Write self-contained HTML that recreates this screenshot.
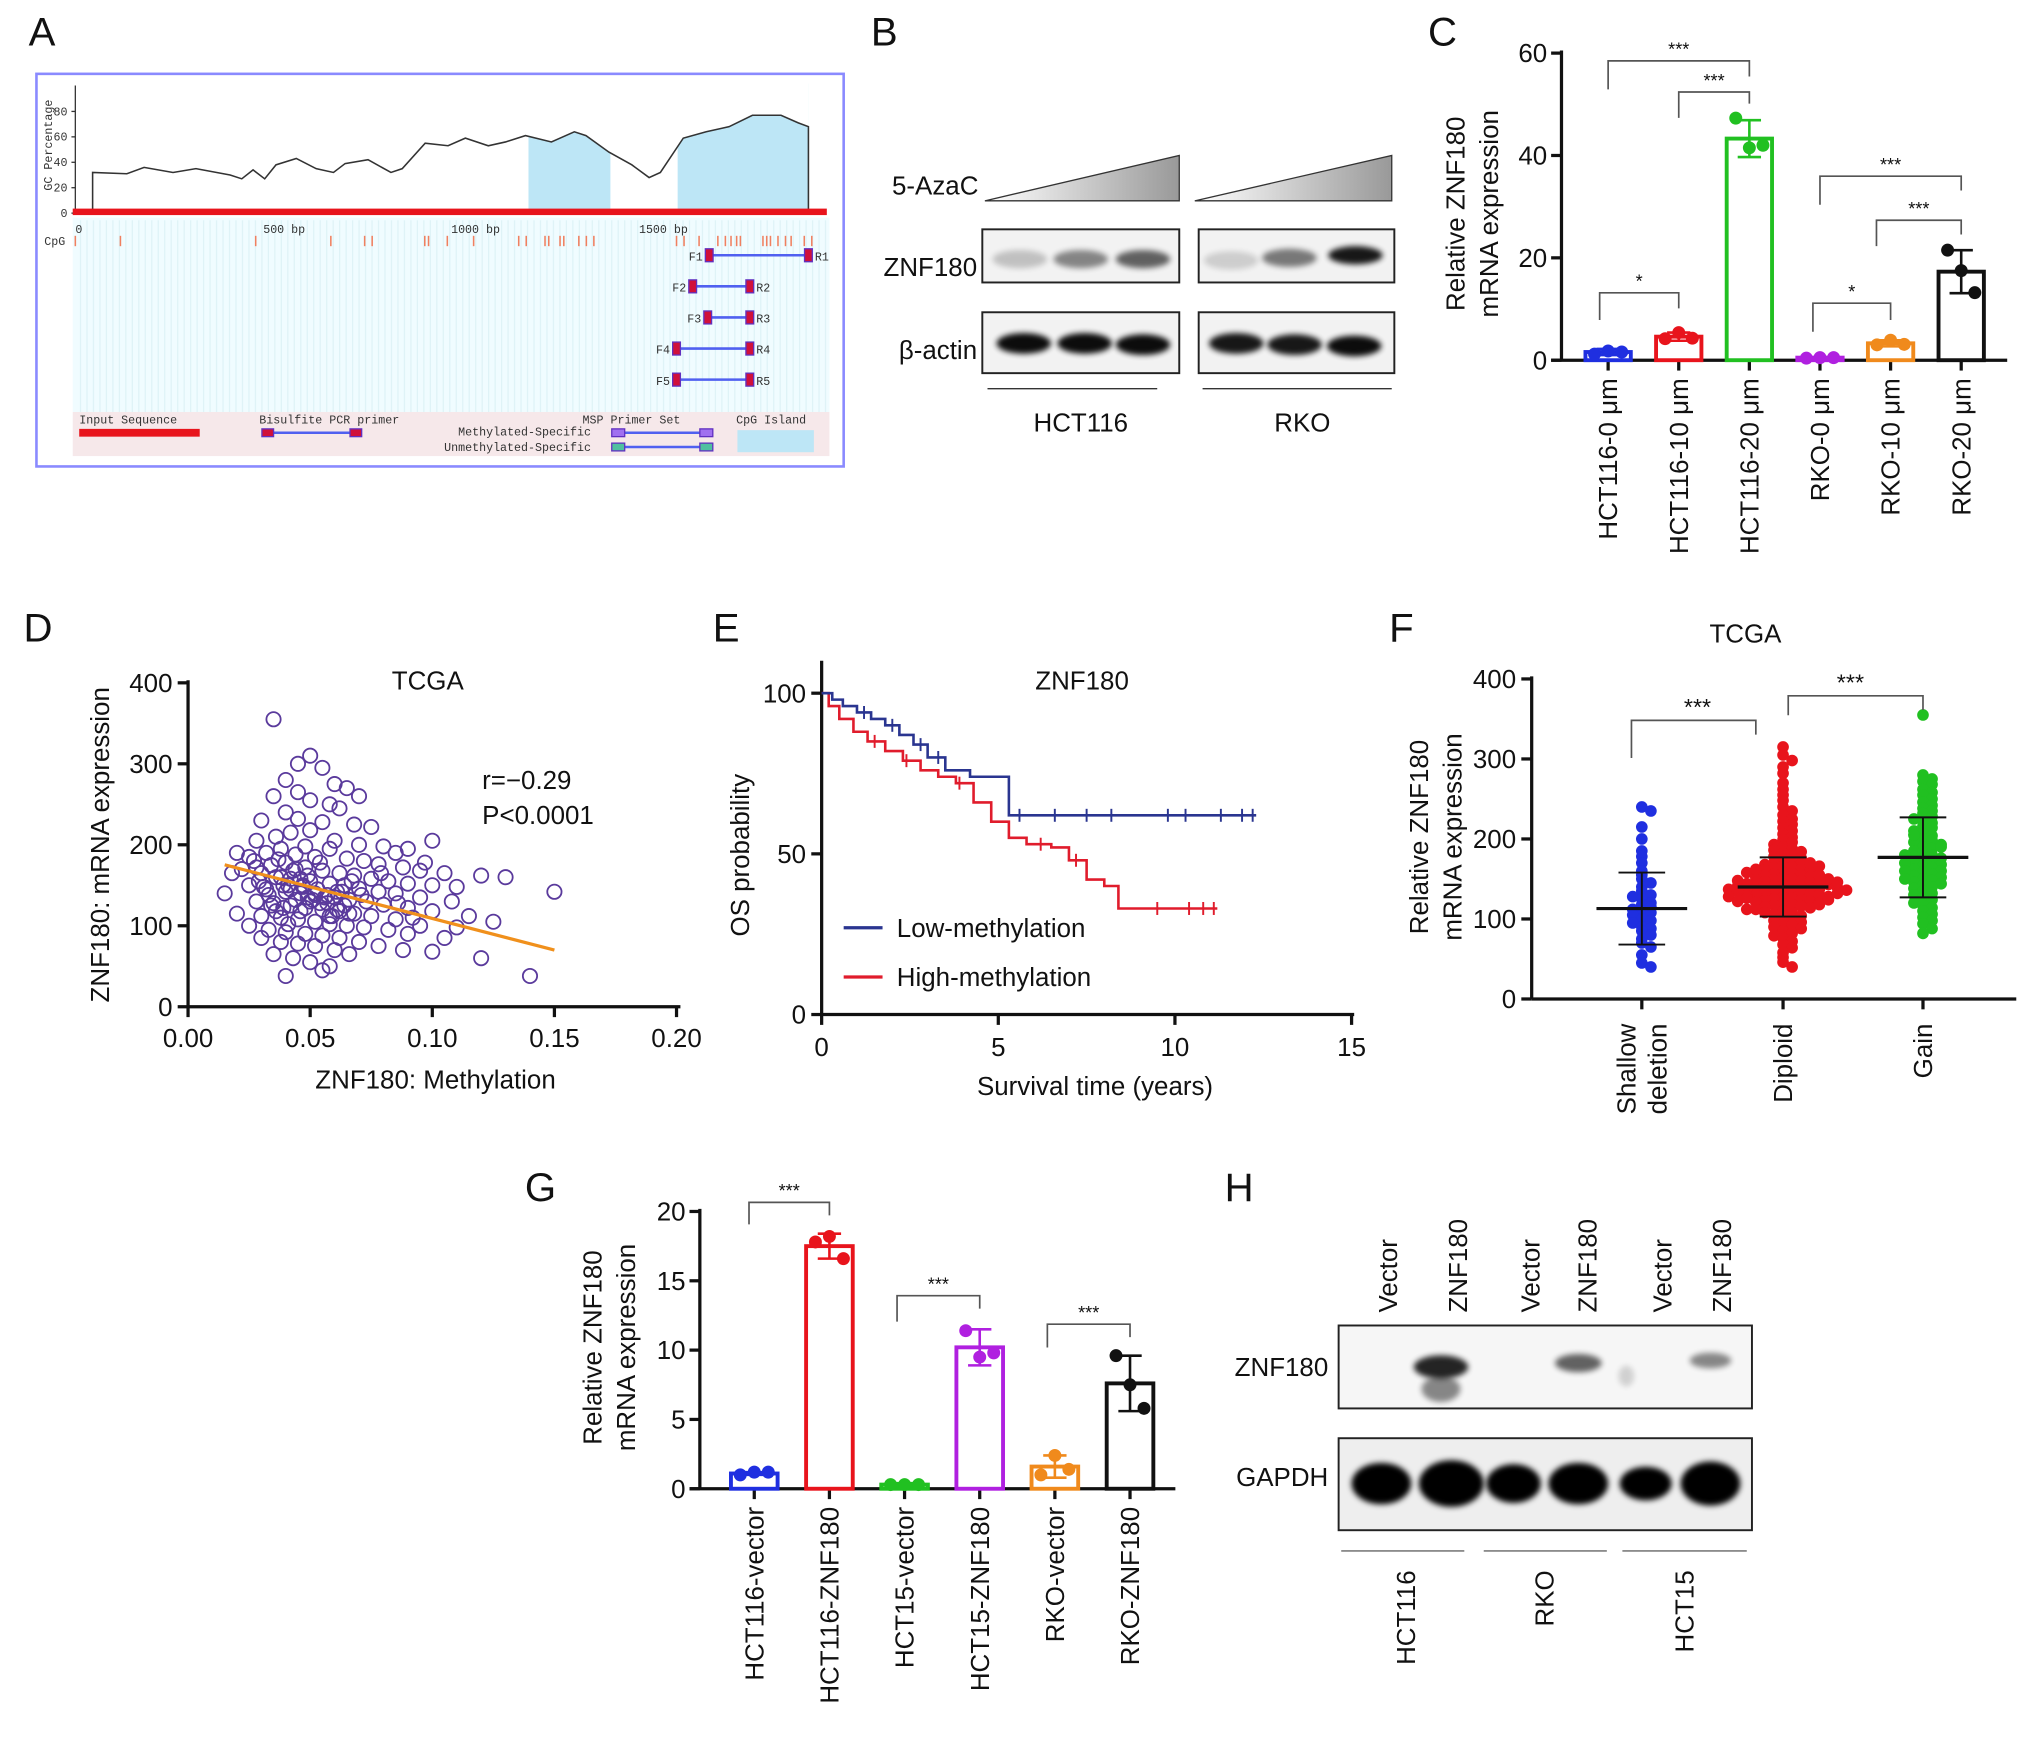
<!DOCTYPE html>
<html><head><meta charset="utf-8"><style>
html,body{margin:0;padding:0;background:#fff}
svg{display:block}
text{font-family:"Liberation Sans",sans-serif;fill:#111}
.mono{font-family:"Liberation Mono",monospace;font-size:9px;fill:#333}
</style></head><body>
<svg id="fig" width="2032" height="1744" viewBox="0 0 1568 1346" xmlns="http://www.w3.org/2000/svg">
<defs>
<filter id="blur2" x="-50%" y="-50%" width="200%" height="200%"><feGaussianBlur stdDeviation="3"/></filter>
<filter id="blur1" x="-50%" y="-50%" width="200%" height="200%"><feGaussianBlur stdDeviation="2.2"/></filter>
<linearGradient id="tri" x1="0" x2="1" y1="0" y2="0"><stop offset="0" stop-color="#fff"/><stop offset="1" stop-color="#999"/></linearGradient>
</defs>
<g id="panelA"></g>
<g id="panelB"></g>
<g id="panelC"></g>
<g id="panelD"></g>
<g id="panelE"></g>
<g id="panelF"></g>
<g id="panelG"></g>
<g id="panelH"></g>
</svg>
<script>
// ---------- DATA ----------
// Panel A GC content
const gcBp=[46,46,137,183,260,321,412,443,473,504,534,588,641,687,718,779,840,870,931,992,1038,1099,1145,1198,1267,1328,1359,1420,1481,1527,1557,1618,1679,1740,1802,1878,1924,1951,1951];
const gcPct=[0,32,31,36,32,35,30,27,34,27,38,43,35,32,39,42,32,35,55,53,59,53,56,61,56,64,61,48,38,28,32,59,64,68,77,77,71,68,0];
const islandStart=[1206,1603];
const islandEnd=[1424,1951];
const cpgSites=[0,120,480,680,770,790,930,940,990,1060,1180,1200,1250,1260,1290,1300,1340,1360,1380,1600,1620,1660,1710,1730,1745,1760,1770,1830,1840,1850,1870,1890,1905,1940,1960];
const primerNames=["1","2","3","4","5"];
const primerF=[1687,1643,1683,1600,1600];
const primerR=[1951,1795,1795,1795,1795];
// Panel C
const cCats=["HCT116-0 μm","HCT116-10 μm","HCT116-20 μm","RKO-0 μm","RKO-10 μm","RKO-20 μm"];
const cVals=[1.6,4.6,43.3,0.5,3.3,17.3];
const cSd=[0.6,0.8,3.6,0.1,0.6,4.2];
const cPts=[[1.2,1.8,1.6],[4.2,5.4,4.3],[47.3,41.5,42.0],[0.4,0.5,0.5],[3.0,3.9,3.1],[21.5,17.5,13.2]];
const cColors=["#1f2fe0","#e8141c","#21c021","#b020e0","#f08a1c","#111"];
const cTicks=[0,20,40,60];
// Panel D scatter
const dMeth=[0.035,0.045,0.05,0.055,0.04,0.06,0.065,0.07,0.045,0.035,0.05,0.058,0.062,0.04,0.03,0.045,0.055,0.068,0.075,0.05,0.042,0.036,0.028,0.06,0.07,0.08,0.09,0.1,0.085,0.058,0.048,0.038,0.032,0.025,0.02,0.044,0.052,0.065,0.072,0.078,0.088,0.095,0.105,0.12,0.04,0.034,0.028,0.022,0.018,0.048,0.055,0.062,0.068,0.075,0.082,0.09,0.1,0.11,0.03,0.036,0.042,0.05,0.058,0.064,0.07,0.078,0.085,0.095,0.015,0.025,0.032,0.04,0.046,0.052,0.06,0.066,0.073,0.08,0.09,0.1,0.115,0.125,0.15,0.028,0.035,0.042,0.048,0.055,0.062,0.068,0.075,0.085,0.095,0.11,0.02,0.03,0.038,0.045,0.052,0.058,0.065,0.072,0.082,0.09,0.105,0.12,0.14,0.025,0.033,0.04,0.048,0.055,0.062,0.07,0.078,0.088,0.1,0.03,0.038,0.045,0.052,0.06,0.066,0.035,0.043,0.05,0.058,0.04,0.055,0.047,0.053,0.039,0.044,0.057,0.033,0.061,0.049,0.043,0.054,0.037,0.067,0.071,0.059,0.046,0.041,0.064,0.051,0.036,0.029,0.079,0.086,0.092,0.097,0.108,0.13,0.042,0.047,0.052,0.056,0.038,0.061,0.044,0.05,0.034,0.058,0.063,0.041,0.049,0.054,0.031,0.046,0.057,0.039,0.066,0.027];
const dExpr=[355,300,310,295,280,275,270,260,265,260,255,250,245,240,230,232,228,225,222,218,215,210,205,205,200,198,195,205,190,195,198,195,190,185,190,188,185,183,180,176,172,168,165,162,178,175,172,170,165,172,168,165,162,158,155,152,150,148,165,160,158,155,152,150,146,142,140,135,140,150,145,142,140,138,135,132,130,126,122,118,112,105,142,130,128,125,122,120,118,115,112,108,100,98,115,112,110,108,105,102,100,98,95,90,85,60,38,100,95,92,90,88,85,80,75,70,68,85,80,78,75,70,65,65,60,55,50,38,45,148,145,150,132,128,138,142,162,168,178,182,155,138,112,118,102,125,132,118,155,165,128,110,178,130,160,145,150,140,135,160,120,170,130,125,112,142,150,135,128,148,158,138,122,115,180];
const dFitSlope=-780, dFitIntercept=187;
const dFitX=[0.015,0.15];
const dXTicks=[0,0.05,0.10,0.15,0.20];
const dYTicks=[0,100,200,300,400];
// Panel E KM
const kmLowT=[0,0.3,0.6,1.0,1.4,1.8,2.2,2.6,3.0,3.5,4.2,5.3,12.3];
const kmLowS=[100,98,96,94,92,90,87,84,80,76,74,62,62];
const kmHighT=[0,0.2,0.5,0.9,1.3,1.8,2.3,2.8,3.3,3.8,4.3,4.8,5.3,5.8,6.5,7.0,7.5,8.0,8.4,11.2];
const kmHighS=[100,96,92,88,85,82,79,76,74,72,66,60,55,53,52,48,42,40,33,33];
const kmLowCens=[1.2,2.0,2.8,3.3,5.6,6.6,7.5,8.2,9.8,10.3,11.3,11.9,12.2];
const kmHighCens=[1.5,2.4,3.9,6.2,7.2,9.5,10.4,10.8,11.1];
const eXTicks=[0,5,10,15];
const eYTicks=[0,50,100];
// Panel F
const fCats=["Shallow deletion","Diploid","Gain"];
const fShallow=[240,235,215,200,185,178,170,160,155,150,145,140,135,130,128,125,120,118,115,112,110,108,105,100,98,95,90,88,85,80,75,70,65,55,45,40];
const fDiploid=[315,305,298,290,282,270,262,255,248,240,235,230,225,222,218,214,210,206,202,199,196,193,190,188,186,184,182,180,178,176,174,172,170,169,168,166,165,164,162,161,160,158,157,156,155,154,153,152,151,150,149,148,147,146,145,145,144,143,142,141,140,140,139,138,137,136,135,135,134,133,132,131,130,130,129,128,127,126,125,124,123,122,121,120,119,118,117,116,115,114,112,110,108,106,104,102,100,98,96,94,92,90,88,85,82,79,76,72,68,64,58,52,46,40,143,141,139,137,150,148,146,136,134,132,128,126,124,155,158,162,166,170,122,118,112,108];
const fGain=[355,280,275,272,268,262,258,255,250,246,242,238,235,232,228,225,222,220,216,214,210,207,204,200,198,196,193,190,188,185,183,180,178,176,174,172,170,168,166,164,162,160,158,156,154,152,150,148,146,144,142,140,138,135,132,130,127,124,120,117,114,110,106,102,98,94,88,82,190,180,170,160,150,205];
const fMeans=[113,140,177];
const fSds=[45,37,50];
const fColors=["#1f2fe0","#e8141c","#21c021"];
const fTicks=[0,100,200,300,400];
// Panel G
const gCats=["HCT116-vector","HCT116-ZNF180","HCT15-vector","HCT15-ZNF180","RKO-vector","RKO-ZNF180"];
const gVals=[1.1,17.5,0.3,10.2,1.6,7.6];
const gSd=[0.1,0.9,0.1,1.3,0.8,2.0];
const gPts=[[1.0,1.2,1.2],[17.8,18.2,16.6],[0.3,0.3,0.3],[11.4,9.5,9.8],[1.0,2.4,1.4],[9.6,7.5,5.8]];
const gColors=["#1f2fe0","#e8141c","#21c021","#b020e0","#f08a1c","#111"];
const gTicks=[0,5,10,15,20];

// ---------- helpers ----------
const NS="http://www.w3.org/2000/svg";
function mk(parent,tag,attrs,txt){const e=document.createElementNS(NS,tag);for(const k in attrs)e.setAttribute(k,attrs[k]);if(txt!==undefined)e.textContent=txt;parent.appendChild(e);return e;}
function lin(d0,d1,r0,r1){return v=>r0+(v-d0)*(r1-r0)/(d1-d0);}
function vtext(p,x,y,s,size,anchor){return mk(p,"text",{x:0,y:0,transform:`translate(${x},${y}) rotate(-90)`,"font-size":size,"text-anchor":anchor||"middle"},s);}
let el;

// ---------- Panel letters ----------
const letters=[["A",22,35],["B",672,35],["C",1102,35],["D",18,495],["E",550,495],["F",1072,495],["G",405,927],["H",945,927]];
const root=document.getElementById("fig");
letters.forEach(l=>{el=mk(root,"text",{x:l[1],y:l[2],"font-size":31},l[0]);

});

// ---------- Panel A ----------
(function(){const g=document.getElementById("panelA");
el=mk(g,"rect",{x:28,y:57,width:623,height:303,fill:"#fff",stroke:"#8a8aff","stroke-width":2});

el=mk(g,"rect",{x:56,y:168,width:584,height:150,fill:"#f0fcff"});

for(let x=62;x<640;x+=5){mk(g,"line",{x1:x,y1:170,x2:x,y2:318,stroke:"#dff3f7","stroke-width":1});}
const xs=lin(0,1500,58,493), ys=lin(0,80,164.5,86);
islandStart.forEach((s,i)=>{el=mk(g,"rect",{x:xs(s),y:ys(gcPct[0])-100,width:xs(islandEnd[i])-xs(s),height:100,fill:"#bde6f6"});
});
let pts=gcBp.map((b,i)=>xs(b)+","+ys(gcPct[i])).join(" ");
el=mk(g,"polygon",{points:xs(46)+",64 "+pts+" "+xs(1951)+",64",fill:"#fff"});

el=mk(g,"polyline",{points:pts,fill:"none",stroke:"#333","stroke-width":1.2});

mk(g,"line",{x1:58,y1:66,x2:58,y2:165,stroke:"#333"});
[0,20,40,60,80].forEach(v=>{mk(g,"line",{x1:55,y1:ys(v),x2:58,y2:ys(v),stroke:"#333"});mk(g,"text",{x:52,y:ys(v)+3,"text-anchor":"end",class:"mono","font-size":8},v);});
vtext(g,40,112,"GC Percentage",8).setAttribute("class","mono");
el=mk(g,"rect",{x:56,y:161,width:582,height:5,fill:"#e8141c"});

[[0,"0"],[500,"500 bp"],[1000,"1000 bp"],[1500,"1500 bp"]].forEach(t=>mk(g,"text",{x:xs(t[0]),y:180,class:"mono"},t[1]));
mk(g,"text",{x:34,y:189,class:"mono"},"CpG");
cpgSites.forEach(s=>{el=mk(g,"line",{x1:xs(s),y1:182,x2:xs(s),y2:190,stroke:"#f08060","stroke-width":1.2});
});
primerNames.forEach((n,i)=>{const y=197+i*24;
el=mk(g,"line",{x1:xs(primerF[i]),y1:y,x2:xs(primerR[i]),y2:y,stroke:"#5060f0","stroke-width":2});

mk(g,"rect",{x:xs(primerF[i])-3,y:y-5,width:6,height:10,fill:"#d0103a",stroke:"#6030c0"});
mk(g,"rect",{x:xs(primerR[i])-3,y:y-5,width:6,height:10,fill:"#d0103a",stroke:"#6030c0"});
mk(g,"text",{x:xs(primerF[i])-5,y:y+4,"text-anchor":"end",class:"mono"},"F"+n);
mk(g,"text",{x:xs(primerR[i])+5,y:y+4,class:"mono"},"R"+n);});
el=mk(g,"rect",{x:56,y:318,width:584,height:34,fill:"#f6e8ea"});

mk(g,"text",{x:61,y:327,class:"mono"},"Input Sequence");
mk(g,"rect",{x:61,y:331,width:93,height:6,fill:"#e8141c"});
mk(g,"text",{x:200,y:327,class:"mono"},"Bisulfite PCR primer");
mk(g,"line",{x1:205,y1:334,x2:276,y2:334,stroke:"#5060f0","stroke-width":2});
mk(g,"rect",{x:202,y:331,width:9,height:6,fill:"#d0103a",stroke:"#6030c0"});mk(g,"rect",{x:270,y:331,width:9,height:6,fill:"#d0103a",stroke:"#6030c0"});
mk(g,"text",{x:525,y:327,"text-anchor":"end",class:"mono"},"MSP Primer Set");
mk(g,"text",{x:456,y:336,"text-anchor":"end",class:"mono"},"Methylated-Specific");
mk(g,"text",{x:456,y:348,"text-anchor":"end",class:"mono"},"Unmethylated-Specific");
mk(g,"line",{x1:477,y1:334,x2:547,y2:334,stroke:"#5060f0","stroke-width":2});mk(g,"rect",{x:472,y:331,width:10,height:6,fill:"#a070f0",stroke:"#6030c0"});mk(g,"rect",{x:540,y:331,width:10,height:6,fill:"#a070f0",stroke:"#6030c0"});
mk(g,"line",{x1:477,y1:345,x2:547,y2:345,stroke:"#5060f0","stroke-width":2});mk(g,"rect",{x:472,y:342,width:10,height:6,fill:"#50c0a0",stroke:"#6030c0"});mk(g,"rect",{x:540,y:342,width:10,height:6,fill:"#50c0a0",stroke:"#6030c0"});
mk(g,"text",{x:568,y:327,class:"mono"},"CpG Island");
mk(g,"rect",{x:569,y:332,width:59,height:17,fill:"#bde6f6"});
})();

// ---------- Panel B ----------
(function(){const g=document.getElementById("panelB");
el=mk(g,"text",{x:755,y:150,"font-size":20,"text-anchor":"end"},"5-AzaC");
[[760,910],[922,1074]].forEach((r,i)=>{el=mk(g,"polygon",{points:`${r[0]},155 ${r[1]},120 ${r[1]},155`,fill:"url(#tri)",stroke:"#333","stroke-width":1});
});
el=mk(g,"text",{x:754,y:213,"font-size":20,"text-anchor":"end"},"ZNF180");
el=mk(g,"text",{x:754,y:277,"font-size":20,"text-anchor":"end"},"β-actin");
const boxes=[[758,177,152,41],[925,177,151,41],[758,241,152,47],[925,241,151,47]];
const bands=[[[787,200,0.2],[834,200,0.45],[882,200,0.6]],[[950,201,0.15],[995,199,0.5],[1046,197,0.9]],[[790,265,0.95],[837,265,0.95],[882,266,0.95]],[[954,265,0.9],[999,266,0.9],[1045,267,0.95]]];
boxes.forEach((b,i)=>{el=mk(g,"rect",{x:b[0],y:b[1],width:b[2],height:b[3],fill:"#f2f2f2",stroke:"#222","stroke-width":1.5});

bands[i].forEach(bd=>{el=mk(g,"ellipse",{cx:bd[0],cy:bd[1],rx:21,ry:i<2?7:8,fill:"#000",opacity:bd[2],filter:"url(#blur1)"});
});});
mk(g,"line",{x1:762,y1:300,x2:893,y2:300,stroke:"#333"});mk(g,"line",{x1:928,y1:300,x2:1074,y2:300,stroke:"#333"});
el=mk(g,"text",{x:834,y:333,"font-size":20,"text-anchor":"middle"},"HCT116");
el=mk(g,"text",{x:1005,y:333,"font-size":20,"text-anchor":"middle"},"RKO");
})();

// ---------- generic bar chart ----------
function barChart(g,o){const ys=lin(0,o.ymax,o.y0,o.ytop);
el=mk(g,"line",{x1:o.ax,y1:o.ytop-2,x2:o.ax,y2:o.y0,stroke:"#111","stroke-width":2.5});
el=mk(g,"line",{x1:o.ax-8,y1:o.y0,x2:o.xend,y2:o.y0,stroke:"#111","stroke-width":2.5});
o.ticks.forEach(t=>{mk(g,"line",{x1:o.ax-8,y1:ys(t),x2:o.ax,y2:ys(t),stroke:"#111","stroke-width":2.5});
el=mk(g,"text",{x:o.ax-11,y:ys(t)+7,"font-size":20,"text-anchor":"end"},t);});
o.cats.forEach((c,i)=>{const cx=o.cx0+i*o.dx,col=o.colors[i];
mk(g,"line",{x1:cx,y1:o.y0,x2:cx,y2:o.y0+8,stroke:"#111","stroke-width":2.5});
el=mk(g,"rect",{x:cx-o.bw/2,y:ys(o.vals[i]),width:o.bw,height:o.y0-ys(o.vals[i]),fill:"none",stroke:col,"stroke-width":3});

const sh=ys(o.vals[i]+o.sd[i]), sl=ys(Math.max(0,o.vals[i]-o.sd[i]));
el=mk(g,"line",{x1:cx,y1:sh,x2:cx,y2:sl,stroke:col,"stroke-width":2});
mk(g,"line",{x1:cx-9,y1:sh,x2:cx+9,y2:sh,stroke:col,"stroke-width":2});mk(g,"line",{x1:cx-9,y1:sl,x2:cx+9,y2:sl,stroke:col,"stroke-width":2});
o.pts[i].forEach((p,j)=>{el=mk(g,"circle",{cx:cx+(j-1)*o.bw*0.3,cy:ys(p),r:5,fill:col});});
el=vtext(g,cx+7,o.y0+14,c,20,"end");});
o.brackets.forEach(b=>{const x1=o.cx0+b[0]*o.dx,x2=o.cx0+b[1]*o.dx;
el=mk(g,"polyline",{points:`${x1},${b[3]} ${x1},${b[2]} ${x2},${b[2]} ${x2},${b[4]}`,fill:"none",stroke:"#555","stroke-width":1.3});

el=mk(g,"text",{x:(x1+x2)/2,y:b[2]-4,"font-size":14,"text-anchor":"middle"},b[5]);});
el=vtext(g,o.lx,o.ly,"Relative ZNF180",20);
el=vtext(g,o.lx+26,o.ly,"mRNA expression",20);
}
barChart(document.getElementById("panelC"),{ax:1205,y0:278,ytop:41,ymax:60,xend:1549,ticks:cTicks,cats:cCats,vals:cVals,sd:cSd,pts:cPts,colors:cColors,cx0:1241,dx:54.5,bw:35,lx:1130,ly:165,
brackets:[[0,2,47,69,59,"***"],[1,2,71,91,80,"***"],[-0.12,1,226,247,238,"*"],[3,5,136,158,147,"***"],[3.8,5,170,190,181,"***"],[2.9,4,234,256,247,"*"]]});
barChart(document.getElementById("panelG"),{ax:540,y0:1149,ytop:935,ymax:20,xend:907,ticks:gTicks,cats:gCats,vals:gVals,sd:gSd,pts:gPts,colors:gColors,cx0:582,dx:58,bw:36,lx:464,ly:1040,
brackets:[[-0.07,1,928,945,938,"***"],[1.9,3,1000,1020,1010,"***"],[3.9,5,1022,1040,1032,"***"]]});

// ---------- Panel D ----------
(function(){const g=document.getElementById("panelD");const xs=lin(0,0.2,145,522),ys=lin(0,400,777,527);
el=mk(g,"line",{x1:145,y1:525,x2:145,y2:777,stroke:"#111","stroke-width":2.5});
el=mk(g,"line",{x1:145,y1:777,x2:525,y2:777,stroke:"#111","stroke-width":2.5});
dYTicks.forEach(t=>{mk(g,"line",{x1:137,y1:ys(t),x2:145,y2:ys(t),stroke:"#111","stroke-width":2.5});el=mk(g,"text",{x:133,y:ys(t)+7,"font-size":20,"text-anchor":"end"},t);});
dXTicks.forEach(t=>{mk(g,"line",{x1:xs(t),y1:777,x2:xs(t),y2:785,stroke:"#111","stroke-width":2.5});el=mk(g,"text",{x:xs(t),y:808,"font-size":20,"text-anchor":"middle"},t.toFixed(2));});
dMeth.forEach((m,i)=>{el=mk(g,"circle",{cx:xs(m),cy:ys(dExpr[i]),r:5.5,fill:"none",stroke:"#5a3a9c","stroke-width":1.4});});
el=mk(g,"line",{x1:xs(dFitX[0]),y1:ys(dFitIntercept+dFitSlope*dFitX[0]),x2:xs(dFitX[1]),y2:ys(dFitIntercept+dFitSlope*dFitX[1]),stroke:"#f0901c","stroke-width":2.5});
el=mk(g,"text",{x:330,y:532,"font-size":20,"text-anchor":"middle"},"TCGA");
el=mk(g,"text",{x:372,y:609,"font-size":20},"r=−0.29");
el=mk(g,"text",{x:372,y:636,"font-size":20},"P<0.0001");
el=vtext(g,84,652,"ZNF180: mRNA expression",20);
el=mk(g,"text",{x:336,y:840,"font-size":20,"text-anchor":"middle"},"ZNF180: Methylation");
})();

// ---------- Panel E ----------
(function(){const g=document.getElementById("panelE");const xs=lin(0,15,634,1043),ys=lin(0,100,783,535);
el=mk(g,"line",{x1:634,y1:510,x2:634,y2:783,stroke:"#111","stroke-width":2.5});
el=mk(g,"line",{x1:634,y1:783,x2:1045,y2:783,stroke:"#111","stroke-width":2.5});
eYTicks.forEach(t=>{mk(g,"line",{x1:626,y1:ys(t),x2:634,y2:ys(t),stroke:"#111","stroke-width":2.5});el=mk(g,"text",{x:622,y:ys(t)+7,"font-size":20,"text-anchor":"end"},t);});
eXTicks.forEach(t=>{mk(g,"line",{x1:xs(t),y1:783,x2:xs(t),y2:791,stroke:"#111","stroke-width":2.5});el=mk(g,"text",{x:xs(t),y:815,"font-size":20,"text-anchor":"middle"},t);});
function step(T,S){let d=`M${xs(T[0])},${ys(S[0])}`;for(let i=1;i<T.length;i++){d+=` H${xs(T[i])} V${ys(S[i])}`;}return d;}
function survAt(T,S,t){let s=S[0];for(let i=0;i<T.length;i++){if(T[i]<=t)s=S[i];}return s;}
el=mk(g,"path",{d:step(kmHighT,kmHighS),fill:"none",stroke:"#e01c2c","stroke-width":2});
el=mk(g,"path",{d:step(kmLowT,kmLowS),fill:"none",stroke:"#2a3590","stroke-width":2});
kmLowCens.forEach(t=>{el=mk(g,"line",{x1:xs(t),y1:ys(survAt(kmLowT,kmLowS,t))-5,x2:xs(t),y2:ys(survAt(kmLowT,kmLowS,t))+5,stroke:"#2a3590","stroke-width":1.5});});
kmHighCens.forEach(t=>{el=mk(g,"line",{x1:xs(t),y1:ys(survAt(kmHighT,kmHighS,t))-5,x2:xs(t),y2:ys(survAt(kmHighT,kmHighS,t))+5,stroke:"#e01c2c","stroke-width":1.5});});
el=mk(g,"text",{x:835,y:532,"font-size":20,"text-anchor":"middle"},"ZNF180");
el=mk(g,"line",{x1:651,y1:716,x2:681,y2:716,stroke:"#2a3590","stroke-width":2.5});
el=mk(g,"text",{x:692,y:723,"font-size":20},"Low-methylation");
el=mk(g,"line",{x1:651,y1:754,x2:681,y2:754,stroke:"#e01c2c","stroke-width":2.5});
el=mk(g,"text",{x:692,y:761,"font-size":20},"High-methylation");
el=vtext(g,578,660,"OS probability",20);
el=mk(g,"text",{x:845,y:845,"font-size":20,"text-anchor":"middle"},"Survival time (years)");
})();

// ---------- Panel F ----------
(function(){const g=document.getElementById("panelF");const ys=lin(0,400,771,524);const centers=[1267,1376,1484];
el=mk(g,"line",{x1:1182,y1:522,x2:1182,y2:771,stroke:"#111","stroke-width":2.5});
el=mk(g,"line",{x1:1182,y1:771,x2:1556,y2:771,stroke:"#111","stroke-width":2.5});
fTicks.forEach(t=>{mk(g,"line",{x1:1174,y1:ys(t),x2:1182,y2:ys(t),stroke:"#111","stroke-width":2.5});el=mk(g,"text",{x:1170,y:ys(t)+7,"font-size":20,"text-anchor":"end"},t);});
[fShallow,fDiploid,fGain].forEach((arr,gi)=>{const cx=centers[gi];const bins={};
arr.forEach(v=>{const b=Math.round(ys(v)/5);bins[b]=(bins[b]||0)+1;const k=bins[b]-1;const off=(k%2?1:-1)*Math.ceil(k/2)*7;
el=mk(g,"circle",{cx:cx+off,cy:ys(v),r:4.5,fill:fColors[gi]});});
mk(g,"line",{x1:centers[gi]-35,y1:ys(fMeans[gi]),x2:centers[gi]+35,y2:ys(fMeans[gi]),stroke:"#111","stroke-width":2.5});
mk(g,"line",{x1:cx,y1:ys(fMeans[gi]+fSds[gi]),x2:cx,y2:ys(fMeans[gi]-fSds[gi]),stroke:"#111","stroke-width":1.5});
mk(g,"line",{x1:cx-18,y1:ys(fMeans[gi]+fSds[gi]),x2:cx+18,y2:ys(fMeans[gi]+fSds[gi]),stroke:"#111","stroke-width":1.5});
mk(g,"line",{x1:cx-18,y1:ys(fMeans[gi]-fSds[gi]),x2:cx+18,y2:ys(fMeans[gi]-fSds[gi]),stroke:"#111","stroke-width":1.5});
mk(g,"line",{x1:cx,y1:771,x2:cx,y2:779,stroke:"#111","stroke-width":2.5});});
el=vtext(g,1262,790,"Shallow",20,"end");
el=vtext(g,1286,790,"deletion",20,"end");
el=vtext(g,1383,790,"Diploid",20,"end");
el=vtext(g,1491,790,"Gain",20,"end");
el=mk(g,"polyline",{points:"1259,585 1259,556 1355,556 1355,567",fill:"none",stroke:"#555","stroke-width":1.3});
el=mk(g,"text",{x:1310,y:552,"font-size":18,"text-anchor":"middle"},"***");
el=mk(g,"polyline",{points:"1380,552 1380,537 1484,537 1484,548",fill:"none",stroke:"#555","stroke-width":1.3});
el=mk(g,"text",{x:1428,y:533,"font-size":18,"text-anchor":"middle"},"***");
el=mk(g,"text",{x:1347,y:496,"font-size":20,"text-anchor":"middle"},"TCGA");
el=vtext(g,1102,646,"Relative ZNF180",20);
el=vtext(g,1128,646,"mRNA expression",20);
})();

// ---------- Panel H ----------
(function(){const g=document.getElementById("panelH");
const top=["Vector","ZNF180","Vector","ZNF180","Vector","ZNF180"],tx=[1078,1132,1188,1232,1290,1336];
top.forEach((t,i)=>{el=vtext(g,tx[i],1013,t,20,"start");});
el=mk(g,"text",{x:1025,y:1062,"font-size":20,"text-anchor":"end"},"ZNF180");
el=mk(g,"text",{x:1025,y:1147,"font-size":20,"text-anchor":"end"},"GAPDH");
el=mk(g,"rect",{x:1033,y:1023,width:319,height:64,fill:"#f6f6f6",stroke:"#222","stroke-width":1.5});
el=mk(g,"rect",{x:1033,y:1110,width:319,height:71,fill:"#eee",stroke:"#222","stroke-width":1.5});
[[1112,1055,21,9,0.85],[1112,1072,15,10,0.45],[1218,1052,18,7,0.6],[1320,1050,16,6,0.45],[1255,1062,6,8,0.15]].forEach(b=>{el=mk(g,"ellipse",{cx:b[0],cy:b[1],rx:b[2],ry:b[3],fill:"#000",opacity:b[4],filter:"url(#blur1)"});});
[1066,1120,1168,1218,1270,1320].forEach((x,i)=>{el=mk(g,"ellipse",{cx:x,cy:1145,rx:[23,25,21,23,20,23][i],ry:[16,18,15,16,13,17][i],fill:"#000",filter:"url(#blur1)"});});
[[1035,1130],[1145,1240],[1252,1348]].forEach(l=>mk(g,"line",{x1:l[0],y1:1197,x2:l[1],y2:1197,stroke:"#666"}));
[["HCT116",1092],["RKO",1199],["HCT15",1307]].forEach(l=>{el=vtext(g,l[1],1212,l[0],20,"end");});
})();
</script>
</body></html>
